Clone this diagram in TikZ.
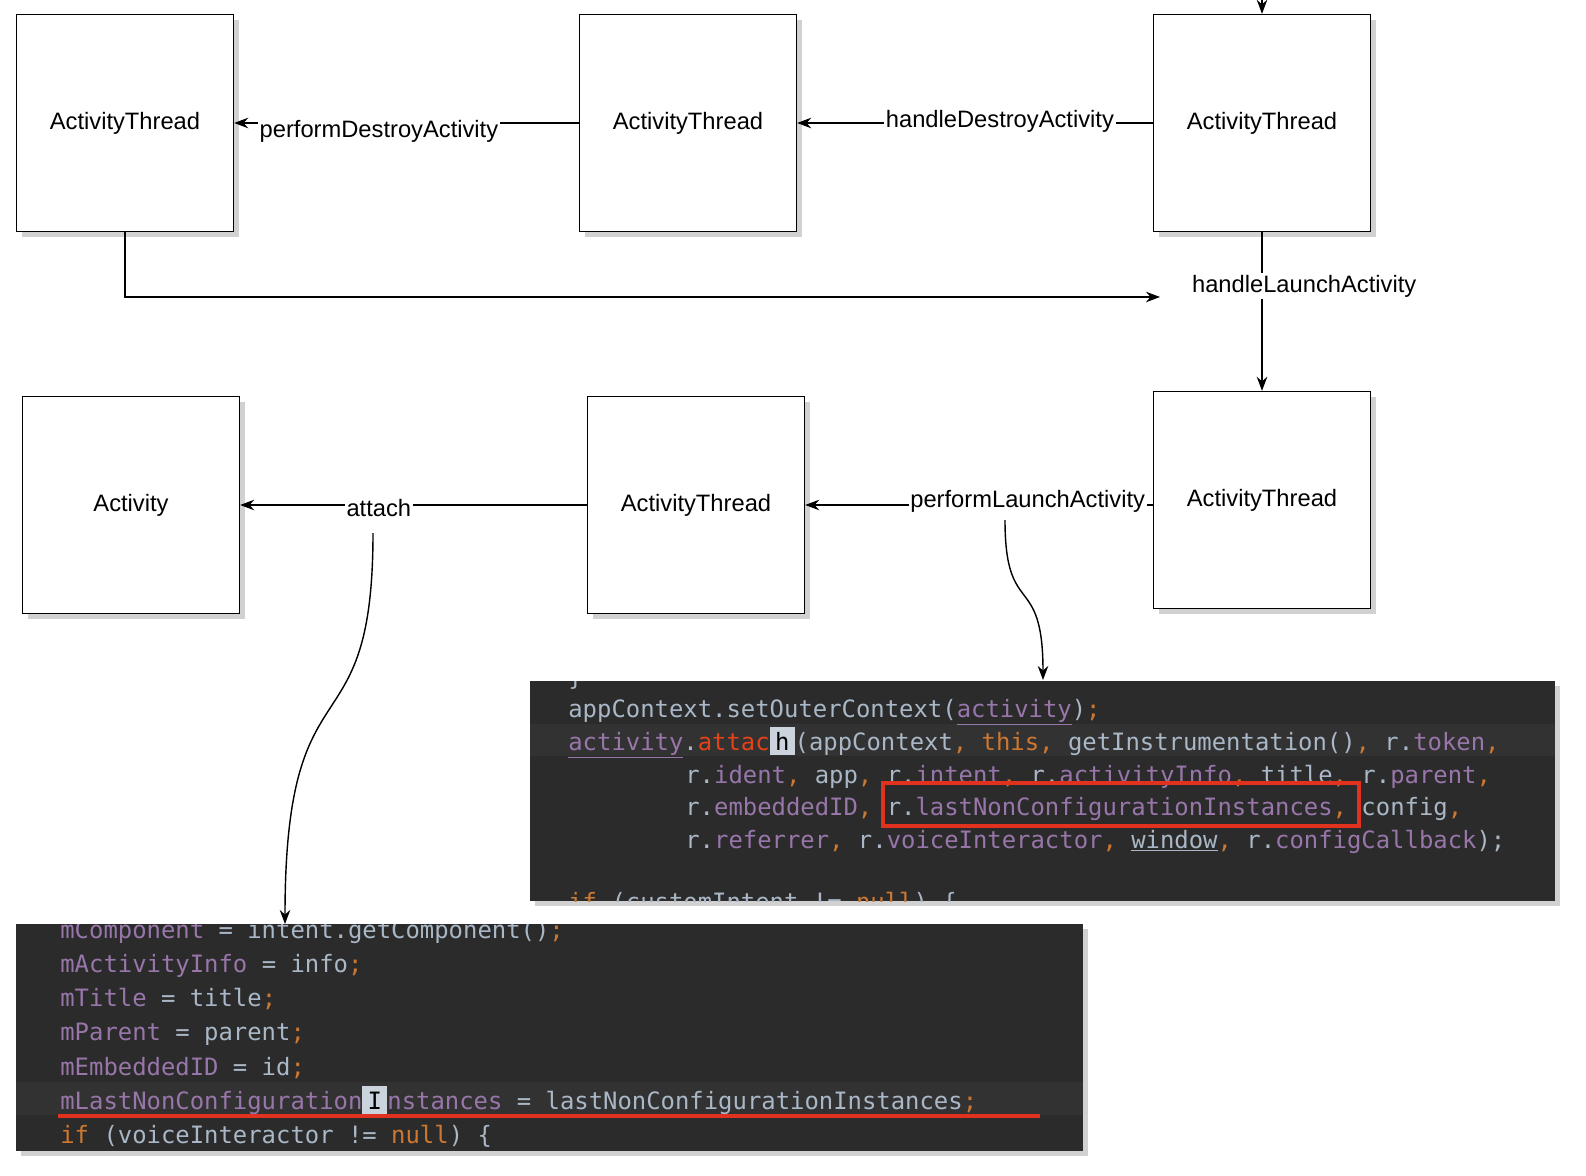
\documentclass[tikz,border=0pt]{standalone}
\usepackage{fontspec}
\setmainfont{Liberation Sans}
\newfontfamily\codefont{DejaVu Sans Mono}
\usetikzlibrary{shadows,arrows.meta}
\definecolor{codebg}{HTML}{2B2B2B}
\definecolor{codehl}{HTML}{323232}
\definecolor{cfg}{HTML}{A9B7C6}
\definecolor{cpu}{HTML}{9876AA}
\definecolor{cor}{HTML}{CC7832}
\definecolor{cred}{HTML}{E0321E}
\newcommand{\pu}[1]{\textcolor{cpu}{#1}}
\newcommand{\orr}[1]{\textcolor{cor}{#1}}

\begin{document}
\begin{tikzpicture}[x=0.02cm, y=-0.02cm, >={Stealth[length=8pt,width=6pt]},
  shade box/.style={general shadow={fill=black!18, shadow xshift=3pt, shadow yshift=-3pt}},
  box/.style={draw, thick, fill=white, minimum size=4.34cm, font=\fontsize{13.5}{16}\selectfont, shade box},
  lbl/.style={fill=white, inner sep=1pt, font=\fontsize{13.5}{16}\selectfont},
  code/.style={anchor=base west, inner sep=0pt, text=cfg, font=\codefont\fontsize{13.6}{16}\selectfont}]

\useasboundingbox (0,0) rectangle (1586,1176);

% top row
\node[box] (at1) at (125,123) {ActivityThread};
\node[box] (at2) at (688,123) {ActivityThread};
\node[box] (at3) at (1262,123) {ActivityThread};
% bottom row
\node[box] (at4) at (1262,500) {ActivityThread};
\node[box] (at5) at (696,505) {ActivityThread};
\node[box] (act) at (131,505) {Activity};

\coordinate (top) at (1262,0);
\coordinate (hl) at (1160,297);
\draw[->, thick] (top) -- (at3);
\draw[->, thick] (at3) -- (at2) node[lbl, pos=0.43, yshift=1pt] {handleDestroyActivity};
\draw[->, thick] (at2) -- (at1) node[lbl, pos=0.58, yshift=-5pt] {performDestroyActivity};
\draw[->, thick] (at1.south) |- (hl);
\draw[->, thick] (at3) -- (at4) node[lbl, pos=0.34, xshift=24pt] {handleLaunchActivity};
\draw[->, thick] (at4.west |- at5) -- (at5) node[lbl, pos=0.36, yshift=2pt] {performLaunchActivity};
\draw[->, thick] (at5) -- (act) node[lbl, pos=0.6, yshift=-2pt] (att) {attach};

% code block 1
\fill[codebg, shade box] (530,681) rectangle (1555,901);
\begin{scope}
\clip (530,681) rectangle (1555,901);
\fill[codehl] (530,724) rectangle (1555,756);
\node[code] (c0) at (568,685) {\}};
\node[code] (c1) at (568,717) {appContext.setOuterContext(\pu{\underline{activity}})\orr{;}};
\node[code] (c2) at (568,750) {\pu{\underline{activity}}.\textcolor{cred!80!orange}{attac}\colorbox{cfg!60}{\textcolor{black}{h}}(appContext\orr{, this,} getInstrumentation()\orr{,} r.\pu{token}\orr{,}};
\node[code] (c3) at (685,783) {r.\pu{ident}\orr{,} app\orr{,} r.\pu{intent}\orr{,} r.\pu{activityInfo}\orr{,} title\orr{,} r.\pu{parent}\orr{,}};
\node[code] (c4) at (685,815) {r.\pu{embeddedID}\orr{,} r.\pu{lastNonConfigurationInstances}\orr{,} config\orr{,}};
\node[code] (c5) at (685,848) {r.\pu{referrer}\orr{,} r.\pu{voiceInteractor}\orr{,} \underline{window}\orr{,} r.\pu{configCallback});};
\node[code] (c6) at (568,910) {\orr{if} (customIntent != \orr{null}) \{};
\end{scope}
\draw[cred, line width=1.8pt] (883,783) rectangle (1359,826);

% code block 2
\fill[codebg, shade box] (16,924) rectangle (1083,1151);
\begin{scope}
\clip (16,924) rectangle (1083,1151);
\fill[codehl] (16,1082) rectangle (1083,1115);
\node[code] (d0) at (60,938) {\pu{mComponent} = intent.getComponent()\orr{;}};
\node[code] (d1) at (60,972) {\pu{mActivityInfo} = info\orr{;}};
\node[code] (d2) at (60,1006) {\pu{mTitle} = title\orr{;}};
\node[code] (d3) at (60,1040) {\pu{mParent} = parent\orr{;}};
\node[code] (d4) at (60,1075) {\pu{mEmbeddedID} = id\orr{;}};
\node[code] (d5) at (60,1109) {\pu{mLastNonConfiguration}\colorbox{cfg!60}{\textcolor{black}{I}}\pu{nstances} = lastNonConfigurationInstances\orr{;}};
\node[code] (d6) at (60,1143) {\orr{if} (voiceInteractor != \orr{null}) \{};
\end{scope}
\draw[cred, line width=1.8pt] (58,1116) -- (1040,1116);

% curved pointers
\coordinate (p1) at (1005,520);
\coordinate (q1) at (1043,680);
\coordinate (p2) at (373,533);
\coordinate (q2) at (285,924);
\draw[->, thick] (p1) .. controls (1005,620) and (1043,570) .. (q1);
\draw[->, thick] (p2) .. controls (373,760) and (285,650) .. (q2);

\end{tikzpicture}
\end{document}
